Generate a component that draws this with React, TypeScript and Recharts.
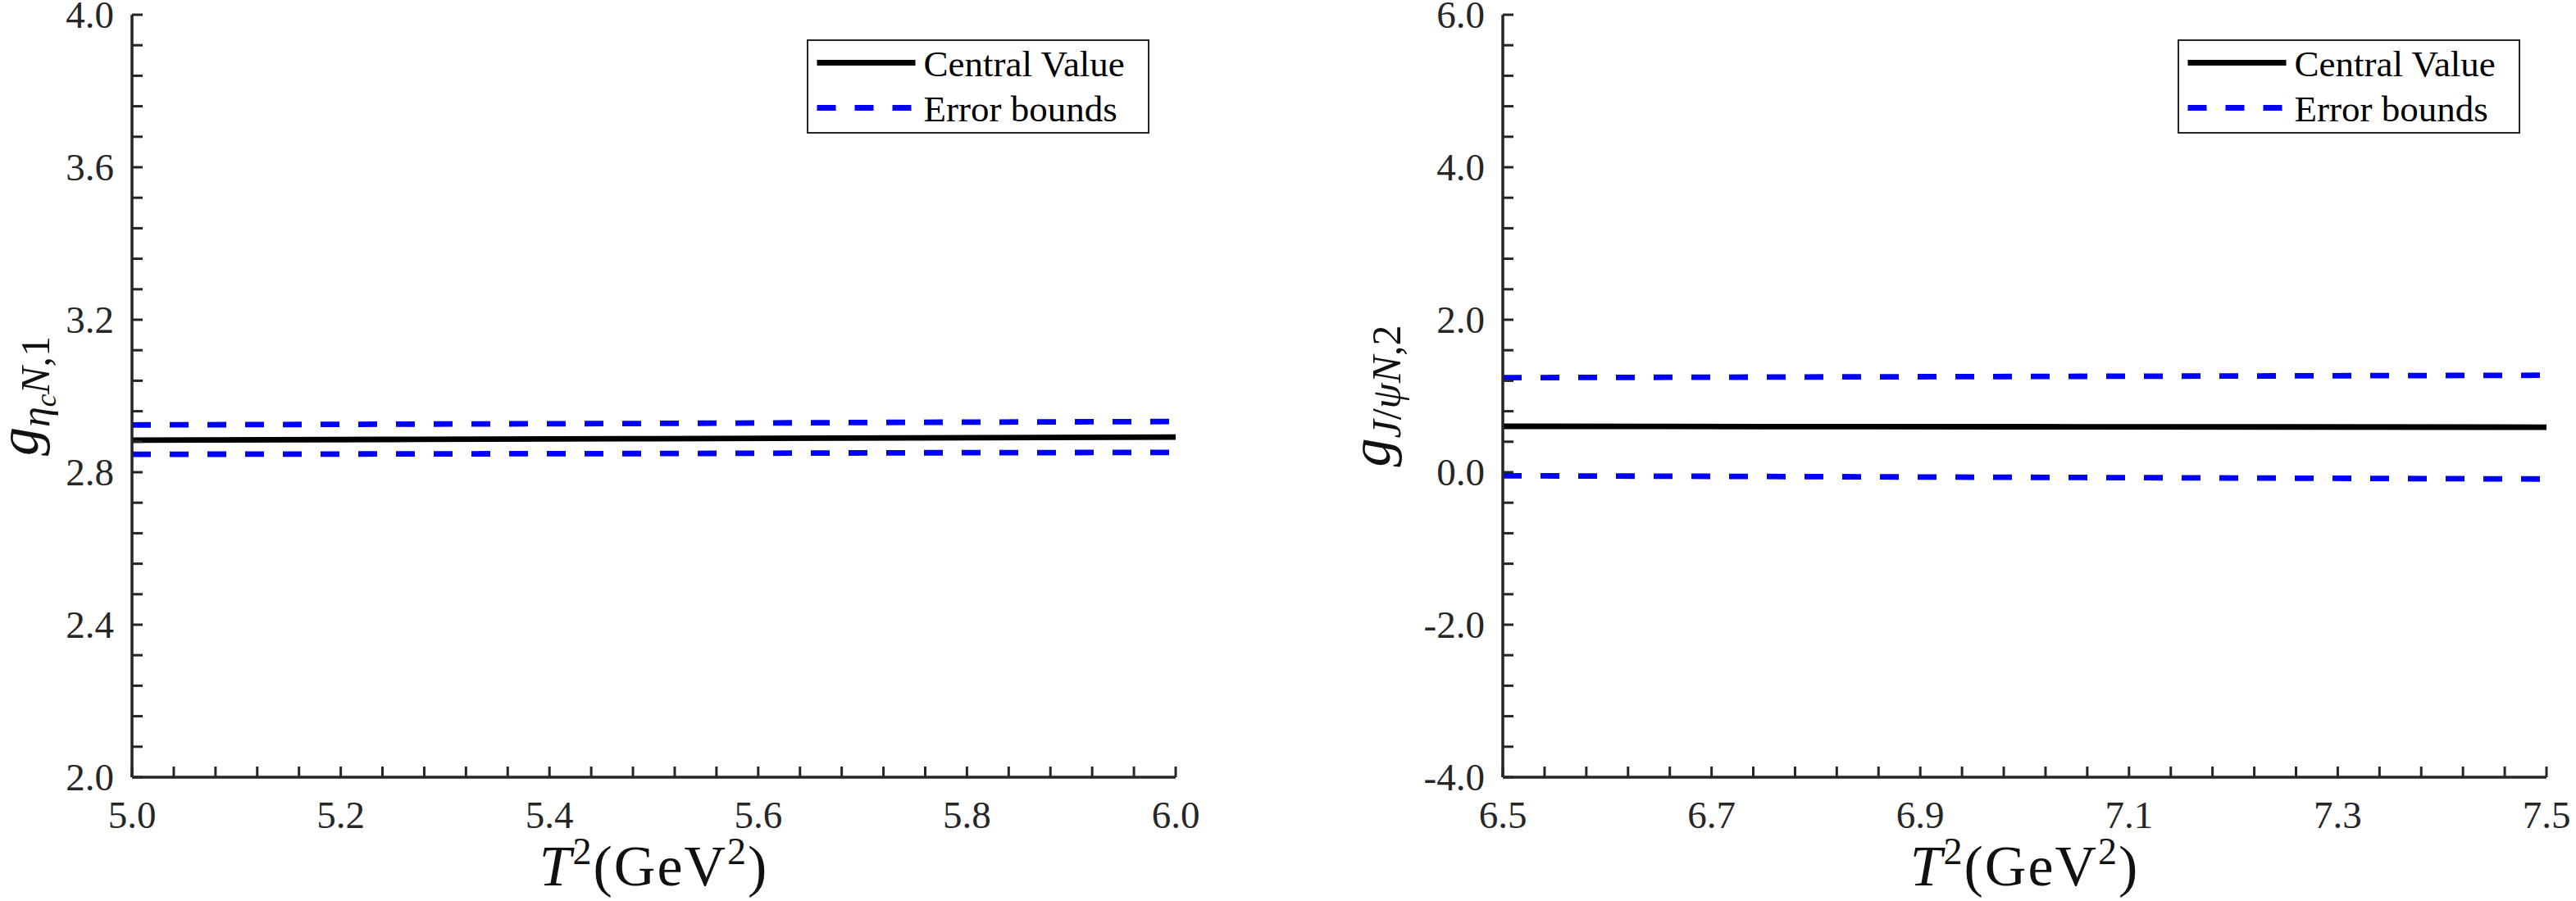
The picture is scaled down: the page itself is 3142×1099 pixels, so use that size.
import React from 'react';
import { LineChart, Line, XAxis, YAxis, Legend } from 'recharts';

// ---------- data ----------
const leftT2 = [5.0, 5.25, 5.5, 5.75, 6.0];
const leftCentral = [2.884, 2.886, 2.888, 2.89, 2.892];
const leftUpper = [2.924, 2.926, 2.928, 2.931, 2.933];
const leftLower = [2.847, 2.848, 2.849, 2.851, 2.852];

const rightT2 = [6.5, 6.75, 7.0, 7.25, 7.5];
const rightCentral = [0.602, 0.599, 0.597, 0.594, 0.591];
const rightUpper = [1.24, 1.248, 1.256, 1.264, 1.272];
const rightLower = [-0.046, -0.056, -0.067, -0.078, -0.089];

// ---------- tick labels ----------
const leftXMajor = [5.0, 5.2, 5.4, 5.6, 5.8, 6.0];
const leftYMajor = [2.0, 2.4, 2.8, 3.2, 3.6, 4.0];
const rightXMajor = [6.5, 6.7, 6.9, 7.1, 7.3, 7.5];
const rightYMajor = [-4.0, -2.0, 0.0, 2.0, 4.0, 6.0];
const minorDivisions = 5;

const legendNames = ['Central Value', 'Error bounds'];

// ---------- styling ----------
const FONT = '"Liberation Serif", "Times New Roman", serif';
const AXIS = '#262626';
const BLUE = '#0000ff';
const LINE_W = 6.8;
const DASH = '23 23';

const withMinor = (majors: number[], n: number) => {
  const out: number[] = [];
  for (let i = 0; i < majors.length - 1; i++) {
    const a = majors[i];
    const b = majors[i + 1];
    for (let k = 0; k < n; k++) out.push(Math.round((a + ((b - a) * k) / n) * 1e6) / 1e6);
  }
  out.push(majors[majors.length - 1]);
  return out;
};

const isMajor = (majors: number[], v: number) => majors.some((m) => Math.abs(m - v) < 1e-6);

const serif = { fontFamily: FONT };

const makeTick = (majors: number[], side: 'bottom' | 'left' | 'none') => (props: any) => {
  const { x, y, payload } = props;
  const v = Number(payload?.value);
  if (side === 'none' || !isMajor(majors, v)) return <g />;
  const label = v.toFixed(1);
  if (side === 'bottom') {
    return (
      <text x={x} y={y + 62} textAnchor="middle" fontFamily={FONT} style={serif} fontSize={47} fill={AXIS}>
        {label}
      </text>
    );
  }
  return (
    <text x={x - 22} y={y + 16} textAnchor="end" fontFamily={FONT} style={serif} fontSize={47} fill={AXIS}>
      {label}
    </text>
  );
};

const XTitle = (props: any) => {
  const vb = props.viewBox || {};
  const cx = vb.x + vb.width / 2;
  const y = vb.y + 132;
  return (
    <text x={cx} y={y} textAnchor="middle" fontFamily={FONT} style={serif} fontSize={70} letterSpacing={2} fill="#111">
      <tspan fontStyle="italic">T</tspan>
      <tspan fontSize={46} dy={-26}>2</tspan>
      <tspan dy={26}>(GeV</tspan>
      <tspan fontSize={46} dy={-26}>2</tspan>
      <tspan dy={26}>)</tspan>
    </text>
  );
};

const YTitleLeft = (props: any) => {
  const vb = props.viewBox || {};
  const plotLeft = vb.x + vb.width;
  const cy = vb.y + vb.height / 2;
  const bx = plotLeft - 115;
  return (
    <text
      x={bx}
      y={cy}
      transform={`rotate(-90, ${bx}, ${cy})`}
      textAnchor="middle"
      fontFamily={FONT}
      style={serif}
      fontSize={70}
      fill="#111"
    >
      <tspan fontStyle="italic">g</tspan>
      <tspan fontStyle="italic" fontSize={50} dy={14}>η</tspan>
      <tspan fontStyle="italic" fontSize={35} dy={8}>c</tspan>
      <tspan fontStyle="italic" fontSize={50} dy={-8}>N</tspan>
      <tspan fontSize={50}>,1</tspan>
    </text>
  );
};

const YTitleRight = (props: any) => {
  const vb = props.viewBox || {};
  const plotLeft = vb.x + vb.width;
  const cy = vb.y + vb.height / 2;
  const bx = plotLeft - 138;
  return (
    <text
      x={bx}
      y={cy}
      transform={`rotate(-90, ${bx}, ${cy})`}
      textAnchor="middle"
      fontFamily={FONT}
      style={serif}
      fontSize={70}
      fill="#111"
    >
      <tspan fontStyle="italic">g</tspan>
      <tspan fontStyle="italic" fontSize={50} dy={13}>J</tspan>
      <tspan fontSize={50}>/</tspan>
      <tspan fontStyle="italic" fontSize={50}>ψ</tspan>
      <tspan fontStyle="italic" fontSize={50}>N</tspan>
      <tspan fontSize={50}>,2</tspan>
    </text>
  );
};

const renderLegend = (props: any) => {
  const seen = new Set<string>();
  const items = (props.payload || []).filter((e: any) => {
    if (e.type === 'none' || !legendNames.includes(e.value) || seen.has(e.value)) return false;
    seen.add(e.value);
    return true;
  });
  return (
    <div
      style={{
        width: 418,
        height: 115,
        boxSizing: 'border-box',
        border: `2.5px solid ${AXIS}`,
        background: '#fff',
      }}
    >
      <svg width={413} height={110} style={{ display: 'block' }}>
        {items.map((e: any, i: number) => {
          const ly = 26.5 + i * 55;
          const dash = e.payload?.strokeDasharray;
          return (
            <g key={e.value}>
              <line x1={10.5} x2={130.5} y1={ly} y2={ly} stroke={e.color} strokeWidth={LINE_W} strokeDasharray={dash} />
              <text x={140.5} y={ly + 16} fontFamily={FONT} style={serif} fontSize={45} fill="#000">
                {e.value}
              </text>
            </g>
          );
        })}
      </svg>
    </div>
  );
};

type PanelProps = {
  offsetLeft: number;
  t2: number[];
  central: number[];
  upper: number[];
  lower: number[];
  xMajor: number[];
  yMajor: number[];
  marginLeft: number;
  marginRight: number;
  legendLeft: number;
  YTitle: any;
};

const Panel = ({ offsetLeft, t2, central, upper, lower, xMajor, yMajor, marginLeft, marginRight, legendLeft, YTitle }: PanelProps) => {
  const data = t2.map((t, i) => ({ t, c: central[i], u: upper[i], l: lower[i] }));
  const xTicks = withMinor(xMajor, minorDivisions);
  const yTicks = withMinor(yMajor, minorDivisions);
  const xDomain = [xMajor[0], xMajor[xMajor.length - 1]];
  const yDomain = [yMajor[0], yMajor[yMajor.length - 1]];
  const axisLine = { stroke: AXIS, strokeWidth: 3.5 };
  const tickLine = { stroke: AXIS, strokeWidth: 3 };
  return (
    <div style={{ position: 'absolute', left: offsetLeft, top: 0 }}>
      <LineChart
        width={1571}
        height={1099}
        data={data}
        margin={{ top: 18, right: marginRight, bottom: 91, left: marginLeft }}
      >
        <XAxis
          dataKey="t"
          type="number"
          domain={xDomain}
          allowDataOverflow
          ticks={xTicks}
          interval={0}
          height={60}
          tickSize={-13}
          tickMargin={13}
          axisLine={axisLine}
          tickLine={tickLine}
          tick={makeTick(xMajor, 'bottom')}
          label={{ content: XTitle }}
        />
        <XAxis
          xAxisId="top"
          orientation="top"
          dataKey="t"
          type="number"
          domain={xDomain}
          allowDataOverflow
          ticks={xTicks}
          interval={0}
          height={0}
          tickSize={-13}
          tickMargin={0}
          axisLine={axisLine}
          tickLine={tickLine}
          tick={makeTick(xMajor, 'none')}
        />
        <YAxis
          type="number"
          domain={yDomain}
          allowDataOverflow
          ticks={yTicks}
          interval={0}
          width={60}
          tickSize={-13}
          tickMargin={13}
          axisLine={axisLine}
          tickLine={tickLine}
          tick={makeTick(yMajor, 'left')}
          label={{ content: YTitle }}
        />
        <YAxis
          yAxisId="right"
          orientation="right"
          type="number"
          domain={yDomain}
          allowDataOverflow
          ticks={yTicks}
          interval={0}
          width={0}
          tickSize={-13}
          tickMargin={0}
          axisLine={axisLine}
          tickLine={tickLine}
          tick={makeTick(yMajor, 'none')}
        />
        <Line
          dataKey="u"
          name="Error bounds"
          type="linear"
          stroke={BLUE}
          strokeWidth={LINE_W}
          strokeDasharray={DASH}
          dot={false}
          activeDot={false}
          isAnimationActive={false}
        />
        <Line
          dataKey="l"
          name="Error bounds (lower)"
          legendType="none"
          type="linear"
          stroke={BLUE}
          strokeWidth={LINE_W}
          strokeDasharray={DASH}
          dot={false}
          activeDot={false}
          isAnimationActive={false}
        />
        <Line
          dataKey="c"
          name="Central Value"
          type="linear"
          stroke="#000"
          strokeWidth={LINE_W}
          dot={false}
          activeDot={false}
          isAnimationActive={false}
        />
        <Legend
          layout="vertical"
          align="center"
          verticalAlign="middle"
          wrapperStyle={{ left: legendLeft, top: 48, width: 418, height: 115 }}
          content={renderLegend}
        />
      </LineChart>
    </div>
  );
};

export default function App() {
  return (
    <div
      style={{
        position: 'absolute',
        left: 0,
        top: 0,
        width: 3142,
        height: 1099,
        background: '#fff',
        overflow: 'hidden',
      }}
    >
      <Panel
        offsetLeft={0}
        t2={leftT2}
        central={leftCentral}
        upper={leftUpper}
        lower={leftLower}
        xMajor={leftXMajor}
        yMajor={leftYMajor}
        marginLeft={101}
        marginRight={137}
        legendLeft={984}
        YTitle={YTitleLeft}
      />
      <Panel
        offsetLeft={1571}
        t2={rightT2}
        central={rightCentral}
        upper={rightUpper}
        lower={rightLower}
        xMajor={rightXMajor}
        yMajor={rightYMajor}
        marginLeft={202}
        marginRight={36}
        legendLeft={1085}
        YTitle={YTitleRight}
      />
    </div>
  );
}
